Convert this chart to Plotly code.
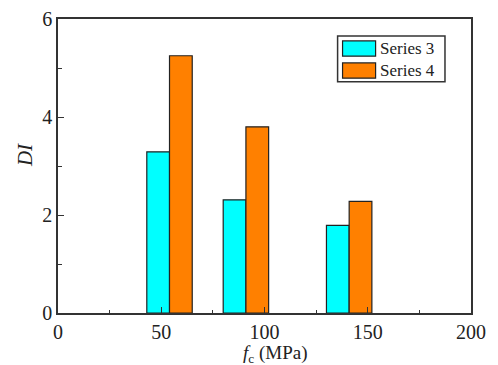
import plotly.graph_objects as go

# Data
x_groups = [54, 91, 141]
series3 = [3.29, 2.31, 1.79]
series4 = [5.25, 3.80, 2.28]
series_names = ["Series 3", "Series 4"]
colors = ["#00FFFF", "#FF8000"]
bar_w = 11

fig = go.Figure()
fig.add_trace(go.Bar(x=x_groups, y=series3, name=series_names[0], width=bar_w, offset=-bar_w,
                     marker=dict(color=colors[0], line=dict(color="#222", width=1.2)), showlegend=False))
fig.add_trace(go.Bar(x=x_groups, y=series4, name=series_names[1], width=bar_w, offset=0,
                     marker=dict(color=colors[1], line=dict(color="#222", width=1.2)), showlegend=False))

font_family = "Liberation Serif"
axis_common = dict(showline=True, linecolor="#333", linewidth=1.5, mirror=True,
                   ticks="inside", tickcolor="#333", tickwidth=1.2, ticklen=6,
                   showgrid=False, zeroline=False, automargin=False,
                   tickfont=dict(family=font_family, size=20, color="#222"))

fig.update_xaxes(range=[0, 200], tickvals=[0, 50, 100, 150, 200],
                 minor=dict(tickvals=[25, 75, 125, 175], ticks="inside", ticklen=3, tickcolor="#333"),
                 **axis_common)
fig.update_yaxes(range=[0, 6], tickvals=[0, 2, 4, 6],
                 minor=dict(tickvals=[1, 3, 5], ticks="inside", ticklen=4, tickcolor="#333"),
                 **axis_common)

annotations = [
    dict(xref="paper", yref="paper", x=0.527, y=-0.138, xanchor="center", yanchor="middle",
         text="<i>f</i><sub>c</sub> (MPa)", showarrow=False,
         font=dict(family=font_family, size=19, color="#222")),
    dict(xref="paper", yref="paper", x=-0.080, y=0.537, xanchor="center", yanchor="middle",
         text="<i>DI</i>", textangle=-90, showarrow=False,
         font=dict(family=font_family, size=21, color="#222")),
]

# Custom legend (box with wide swatches)
shapes = [dict(type="rect", xref="paper", yref="paper", x0=0.677, x1=0.937, y0=0.7865, y1=0.942,
               line=dict(color="#333", width=1.5), fillcolor="white")]
legend_y = [0.8995, 0.8246]
for nm, c, yc in zip(series_names, colors, legend_y):
    shapes.append(dict(type="rect", xref="paper", yref="paper", x0=0.689, x1=0.769,
                       y0=yc - 0.026, y1=yc + 0.026, line=dict(color="#222", width=1.2), fillcolor=c))
    annotations.append(dict(xref="paper", yref="paper", x=0.776, y=yc, xanchor="left", yanchor="middle",
                            text=nm, showarrow=False, font=dict(family=font_family, size=17, color="#222")))

fig.update_layout(width=498, height=365, margin=dict(l=58, r=27, t=19, b=52, autoexpand=False),
                  plot_bgcolor="white", paper_bgcolor="white",
                  shapes=shapes, annotations=annotations, showlegend=False)

fig.write_html("out.html", config={"displayModeBar": False},
               post_script="document.body.style.margin='0';")
